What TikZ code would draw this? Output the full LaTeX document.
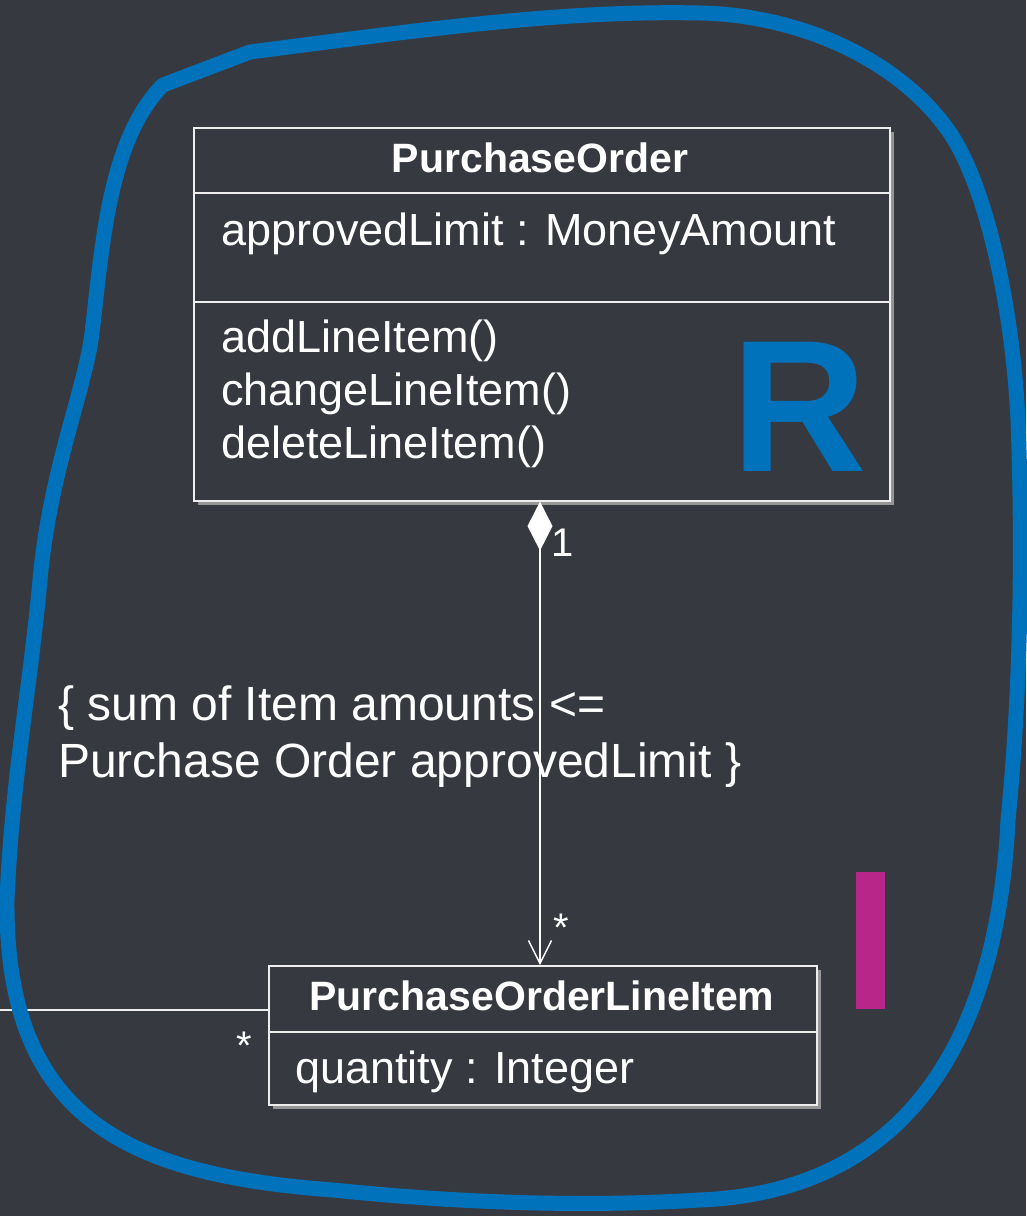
\documentclass[tikz,border=0pt]{standalone}
\usepackage{fontspec}
\setmainfont{Liberation Sans}
\usetikzlibrary{arrows.meta, positioning, shadows}
\definecolor{slate}{RGB}{54,57,64}
\definecolor{boxline}{RGB}{238,238,238}
\definecolor{shade}{RGB}{150,150,150}
\definecolor{lassoblue}{RGB}{0,114,188}
\definecolor{barpink}{RGB}{184,38,137}

\begin{document}
\begin{tikzpicture}[
        x=1pt, y=-1pt,
        umlbox/.style={
            draw=boxline,
            line width=1.6pt,
            fill=slate,
            inner sep=0pt,
            anchor=north west,
            drop shadow={shadow xshift=4pt, shadow yshift=-4pt, fill=shade, opacity=1}
        },
        title/.style={text=white, inner sep=0pt, anchor=base, font=\fontsize{41}{48}\selectfont\bfseries},
        member/.style={text=white, inner sep=0pt, anchor=base west, font=\fontsize{45}{53}\selectfont},
        note/.style={text=white, inner sep=0pt, anchor=base west, font=\fontsize{48}{57}\selectfont},
        mult/.style={text=white, inner sep=0pt, font=\fontsize{40}{40}\selectfont},
        sep/.style={boxline, line width=1.6pt},
        link/.style={white, line width=1.6pt}
    ]
        \fill[slate] (0,0) rectangle (1026,1216);
        \useasboundingbox (0,0) rectangle (1026,1216);

        % Class boxes
        \node[umlbox, minimum width=696pt, minimum height=373pt] (PO) at (193,127) {};
        \node[umlbox, minimum width=548pt, minimum height=139pt] (POLI) at (268,965) {};

        % PurchaseOrder compartments
        \node[title] (POname) at (540,172) {PurchaseOrder};
        \draw[sep] (PO.west |- 0,193) -- (PO.east |- 0,193);
        \node[member] (approved) at (221,245) {approvedLimit : MoneyAmount};
        \draw[sep] (PO.west |- 0,302) -- (PO.east |- 0,302);
        \foreach \op [count=\i from 0] in {addLineItem(), changeLineItem(), deleteLineItem()}
            \node[member] (op\i) at (221,352+53*\i) {\op};
        \node[text=lassoblue, inner sep=0pt, anchor=base west,
              font=\fontsize{188}{188}\selectfont\bfseries] (R) at (731,471) {R};

        % PurchaseOrderLineItem compartments
        \node[title] (POLIname) at (542,1010) {PurchaseOrderLineItem};
        \draw[sep] (POLI.west |- 0,1032) -- (POLI.east |- 0,1032);
        \node[member] (quantity) at (295,1083) {quantity : Integer};

        % Constraint note
        \node[note] (c1) at (58,720) {\{ sum of Item amounts <=};
        \node[note] (c2) at (58,777) {Purchase Order approvedLimit \}};

        % Composition
        \draw[link, {Diamond[length=49pt, width=25pt, fill=white]}-{Straight Barb[length=23pt, width=23pt, line width=1.4pt]}]
            (PO.south -| 540,0) -- (POLI.north -| 540,0);
        \node[mult] (one) at (563,543) {1};
        \node[mult] (many) at (561,928) {*};

        % Association to the left
        \coordinate (outside) at (0,1010);
        \draw[boxline, line width=1.4pt] (outside) -- (outside -| POLI.west);
        \node[mult] (many2) at (244,1046) {*};

        % Marker bar
        \fill[barpink] (856,872) rectangle (885,1009);

        % Lasso
        \draw[lassoblue, line width=15pt, line join=round]
            (250,52) .. controls (420,30) and (560,10) .. (700,13)
            .. controls (800,15) and (900,60) .. (950,133)
            .. controls (985,185) and (1012,300) .. (1018,420)
            .. controls (1024,580) and (1018,720) .. (1008,820)
            .. controls (1000,990) and (940,1190) .. (700,1200)
            .. controls (600,1206) and (480,1205) .. (333,1190)
            .. controls (130,1175) and (5,1120) .. (7,900)
            .. controls (12,780) and (30,690) .. (40,580)
            .. controls (50,470) and (85,390) .. (92,333)
            .. controls (102,250) and (108,140) .. (163,85)
            -- cycle;
    \end{tikzpicture}
\end{document}
